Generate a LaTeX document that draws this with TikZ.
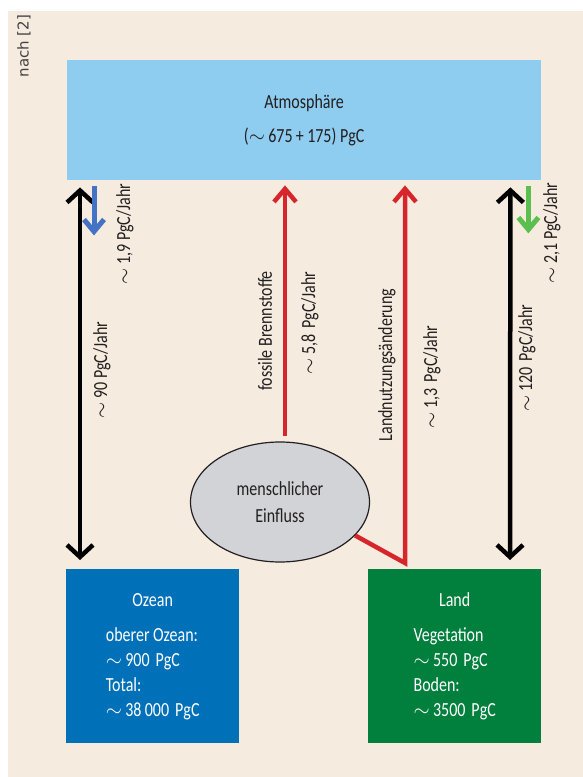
\documentclass[tikz,border=0pt]{standalone}
\usepackage{fontspec}
\setmainfont{Carlito}[FakeStretch=0.8]
\newfontfamily\notefont{DejaVu Sans}
\usetikzlibrary{arrows.meta, shapes.geometric}

\definecolor{bgbeige}{HTML}{F5ECDF}
\definecolor{atmoblue}{HTML}{8ECDF0}
\definecolor{oceanblue}{HTML}{0070B8}
\definecolor{landgreen}{HTML}{007F3D}
\definecolor{fluxred}{HTML}{D7262B}
\definecolor{sinkblue}{HTML}{4472C4}
\definecolor{sinkgreen}{HTML}{5BBF4F}
\definecolor{greyfill}{HTML}{D1D3D6}
\definecolor{textdark}{HTML}{231F20}

\tikzset{
  pool/.style={rectangle, anchor=north west, inner sep=0pt, minimum height=174pt, minimum width=173pt,
    text=white, font=\fontsize{20}{25}\selectfont},
  flux/.style={rotate=90, text=textdark, font=\fontsize{20}{22}\selectfont},
  exchange/.style={line width=4.5pt, black,
    {Straight Barb[length=12pt, width=26pt]}-{Straight Barb[length=12pt, width=26pt]}},
  emission/.style={line width=4.5pt, fluxred, -{Straight Barb[length=13pt, width=22pt]}},
  sink/.style={line width=5pt, -{Straight Barb[length=12pt, width=20pt]}}
}

\begin{document}
\begin{tikzpicture}[x=1pt, y=-1pt]
\useasboundingbox (0,0) rectangle (583,777);
\fill[bgbeige] (8,11) rectangle (583,777);

\node[rotate=90, font=\notefont\fontsize{15}{16}\selectfont, text=textdark!85] (quelle) at (24,46) {nach [2]};

% Speicher
\node[rectangle, anchor=north west, fill=atmoblue, minimum width=474pt, minimum height=120pt,
  align=center, text=textdark, font=\fontsize{20}{25}\selectfont] (atmo) at (67,60)
  {Atmosphäre\\[9pt](${\sim}$\,675\,+\,175) PgC};
\node[pool, fill=oceanblue] (ozean) at (66,569)
  {\begin{tabular}{@{}l@{}}
   \multicolumn{1}{@{}c@{}}{Ozean}\\[10pt]
   oberer Ozean:\\ ${\sim}$\,900\hspace{6pt}PgC\\ Total:\\ ${\sim}$\,38\,000\hspace{6pt}PgC
   \end{tabular}};
\node[pool, fill=landgreen] (land) at (368,569)
  {\begin{tabular}{@{}l@{}}
   \multicolumn{1}{@{}c@{}}{Land}\\[10pt]
   Vegetation\\ ${\sim}$\,550\hspace{6pt}PgC\\ Boden:\\ ${\sim}$\,3500\hspace{6pt}PgC
   \end{tabular}};
\node[ellipse, draw=textdark, line width=1.2pt, fill=greyfill, minimum width=179pt, minimum height=120pt,
  inner sep=0pt, align=center, text=textdark, font=\fontsize{20}{27}\selectfont] (einfluss) at (280,502)
  {menschlicher\\Einfluss};

% Flüsse
\draw[exchange] ([xshift=13pt,yshift=-7pt]atmo.south west) -- ([xshift=14pt,yshift=9pt]ozean.north west);
\draw[sink, sinkblue] ([xshift=27pt,yshift=-6pt]atmo.south west) -- ([xshift=27pt,yshift=-55pt]atmo.south west);
\draw[exchange] ([xshift=-31pt,yshift=-7pt]atmo.south east) -- ([xshift=142pt,yshift=9pt]land.north west);
\draw[sink, sinkgreen] ([xshift=-13pt,yshift=-6pt]atmo.south east) -- ([xshift=-13pt,yshift=-53pt]atmo.south east);
\draw[emission] ([xshift=5pt,yshift=5pt]einfluss.north) -- ([xshift=218pt,yshift=-5pt]atmo.south west);
\draw[emission, line join=miter] (einfluss.-24) -- ([xshift=37pt,yshift=6pt]land.north west)
  -- ([xshift=338pt,yshift=-5pt]atmo.south west);

% Beschriftungen
\node[flux] (f19) at (125,234) {${\sim}$\,1,9 PgC/Jahr};
\node[flux] (f90) at (102,370) {${\sim}$\,90 PgC/Jahr};
\node[flux] (fossil) at (265,331) {fossile Brennstoffe};
\node[flux] (f58) at (310,323) {${\sim}$\,5,8\hspace{6pt}PgC/Jahr};
\node[flux] (landnutz) at (387,365) {Landnutzungsänderung};
\node[flux] (f13) at (432,377) {${\sim}$\,1,3\hspace{6pt}PgC/Jahr};
\node[flux] (f120) at (527,358) {${\sim}$\,120\hspace{6pt}PgC/Jahr};
\node[flux] (f21) at (552,233) {${\sim}$\,2,1 PgC/Jahr};
\end{tikzpicture}
\end{document}
